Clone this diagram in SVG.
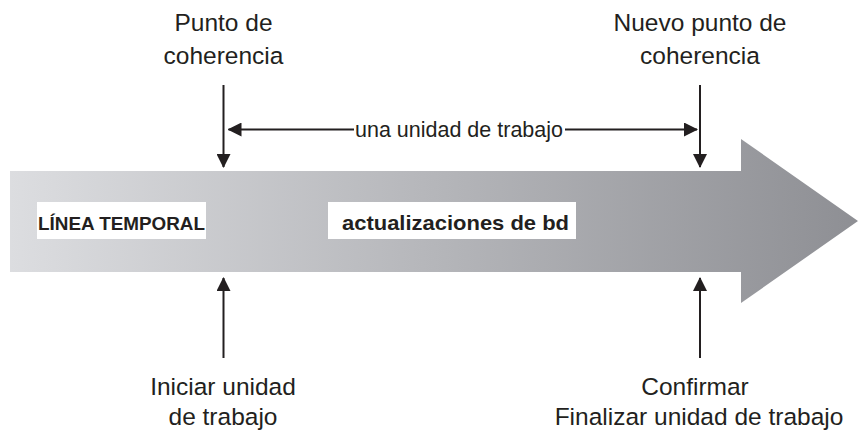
<svg xmlns="http://www.w3.org/2000/svg" width="858" height="435" viewBox="0 0 858 435">
  <defs>
    <linearGradient id="grad" gradientUnits="userSpaceOnUse" x1="10" y1="0" x2="858" y2="0">
      <stop offset="0" stop-color="#dcdde0"/>
      <stop offset="1" stop-color="#8e8f94"/>
    </linearGradient>
    <marker id="ah" viewBox="0 0 14 14" refX="13" refY="7" markerWidth="14" markerHeight="14" markerUnits="userSpaceOnUse" orient="auto">
      <path d="M0,0 L14,7 L0,14 Z" fill="#231f20"/>
    </marker>
  </defs>
  <style>
    .lbl { font-family: "Liberation Sans", Arial, sans-serif; font-size: 24.5px; fill: #231f20; text-anchor: middle; }
    .mid { font-family: "Liberation Sans", Arial, sans-serif; font-size: 21.5px; fill: #231f20; }
    .bold { font-family: "Liberation Sans", Arial, sans-serif; font-weight: bold; fill: #231f20; }
    .ln { stroke: #231f20; stroke-width: 2; fill: none; }
    .box { fill: #ffffff; }
  </style>

  <g id="timeline">
    <path d="M10,171 L741,171 L741,139 L858,221 L741,303 L741,272 L10,272 Z" fill="url(#grad)"/>
  </g>

  <g id="linea-temporal">
    <rect class="box" x="37" y="202" width="169" height="37"/>
    <text class="bold" x="38" y="229.5" font-size="18.5" textLength="167" lengthAdjust="spacingAndGlyphs">LÍNEA TEMPORAL</text>
  </g>

  <g id="actualizaciones">
    <rect class="box" x="328" y="202" width="248" height="37"/>
    <text class="bold" x="342" y="229.5" font-size="21" textLength="227" lengthAdjust="spacingAndGlyphs">actualizaciones de bd</text>
  </g>

  <g id="punto-coherencia">
    <text class="lbl" x="223.5" y="30.5">Punto de</text>
    <text class="lbl" x="223.5" y="64">coherencia</text>
  </g>

  <g id="nuevo-punto">
    <text class="lbl" x="700" y="30.5">Nuevo punto de</text>
    <text class="lbl" x="700" y="64">coherencia</text>
  </g>

  <g id="iniciar">
    <text class="lbl" x="223" y="395">Iniciar unidad</text>
    <text class="lbl" x="223" y="425">de trabajo</text>
  </g>

  <g id="confirmar">
    <text class="lbl" x="695" y="395">Confirmar</text>
    <text class="lbl" x="699" y="425">Finalizar unidad de trabajo</text>
  </g>

  <g id="unidad-label">
    <text class="mid" x="355" y="136.5" textLength="208" lengthAdjust="spacingAndGlyphs">una unidad de trabajo</text>
  </g>

  <g id="connectors">
    <line class="ln" x1="223.5" y1="85" x2="223.5" y2="167" marker-end="url(#ah)"/>
    <line class="ln" x1="700" y1="85" x2="700" y2="167" marker-end="url(#ah)"/>
    <line class="ln" x1="223.5" y1="358" x2="223.5" y2="278" marker-end="url(#ah)"/>
    <line class="ln" x1="700" y1="358" x2="700" y2="278" marker-end="url(#ah)"/>
    <line class="ln" x1="354" y1="129.5" x2="228.5" y2="129.5" marker-end="url(#ah)"/>
    <line class="ln" x1="565" y1="129.5" x2="697" y2="129.5" marker-end="url(#ah)"/>
  </g>
</svg>
